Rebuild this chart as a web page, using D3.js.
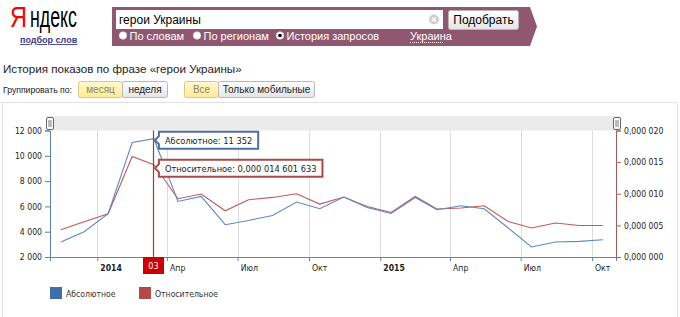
<!DOCTYPE html>
<html>
<head>
<meta charset="utf-8">
<script src="https://cdn.jsdelivr.net/npm/d3@7"></script>
<style>
body{margin:0;background:#fff;}
svg{display:block;}
</style>
</head>
<body>
<svg id="chart" width="680" height="317"></svg>
<script>
// monthly points, Nov 2013 .. Oct 2015
const months = ["2013-11","2013-12","2014-01","2014-02","2014-03","2014-04","2014-05","2014-06",
	"2014-07","2014-08","2014-09","2014-10","2014-11","2014-12","2015-01","2015-02","2015-03",
	"2015-04","2015-05","2015-06","2015-07","2015-08","2015-09","2015-10"]
const absolute = [3185,4000,5420,11050,11352,6392,6787,4551,4890,5286,6344,5815,6740,5918,
	5444,6708,5736,6052,5815,4290,2790,3185,3232,3366]
const relative = [4.31e-6,5.57e-6,6.84e-6,15.9e-6,14.601633e-6,9.21e-6,9.95e-6,7.31e-6,9.05e-6,
	9.42e-6,10.0e-6,8.37e-6,9.48e-6,7.99e-6,7.05e-6,9.57e-6,7.58e-6,7.74e-6,8.1e-6,5.62e-6,
	4.58e-6,5.37e-6,4.99e-6,4.99e-6]
const leftTicks = [2000,4000,6000,8000,10000,12000]
const rightTicks = [0,0.000005,0.00001,0.000015,0.00002]
const monthNames = ["Янв","Фев","Мар","Апр","Май","Июн","Июл","Авг","Сен","Окт","Ноя","Дек"]
const legendLabels = ["Абсолютное","Относительное"]
const hoverIndex = 4

const blue = "#5f88c0", red = "#bf5b58"
const axisFont = "8.6px 'DejaVu Sans Condensed','DejaVu Sans',Verdana,sans-serif"

const svg = d3.select("#chart")
const defs = svg.append("defs")
function grad(id, c1, c2){
	const g = defs.append("linearGradient").attr("id",id).attr("x1",0).attr("y1",0).attr("x2",0).attr("y2",1)
	g.append("stop").attr("offset","0%").attr("stop-color",c1)
	g.append("stop").attr("offset","100%").attr("stop-color",c2)
}
grad("btn","#ffffff","#e4e4e4")
grad("btnOn","#fff8d2","#ffeb94")

// ---------- header ----------
const logoFont = "30px 'Liberation Sans Narrow','Liberation Sans',Arial,sans-serif"
svg.append("text")
	.attr("x",10).attr("y",27)
	.attr("textLength",17).attr("lengthAdjust","spacingAndGlyphs")
	.style("font",logoFont).attr("fill","#f00")
	.text("Я")
svg.append("text")
	.attr("x",30).attr("y",27)
	.attr("textLength",47).attr("lengthAdjust","spacingAndGlyphs")
	.style("font",logoFont).attr("fill","#000")
	.text("ндекс")
svg.append("text")
	.attr("x",20).attr("y",43)
	.attr("fill","#3b3b8f")
	.attr("text-decoration","underline")
	.style("font","bold 9px Arial,'Liberation Sans',sans-serif")
	.text("подбор слов")

svg.append("path")
	.attr("d","M112,7 H530 L537,26.5 L530,46 H112 Z")
	.attr("fill","#8f5870")
svg.append("rect").attr("x",116).attr("y",10).attr("width",327).attr("height",19).attr("fill","#fff")
svg.append("text").attr("x",119).attr("y",24)
	.style("font","12px Arial,'Liberation Sans',sans-serif").attr("fill","#000")
	.text("герои Украины")
svg.append("circle").attr("cx",434).attr("cy",19.5).attr("r",5).attr("fill","#d0d0d0")
svg.append("path").attr("d","M432,17.5 L436,21.5 M436,17.5 L432,21.5")
	.attr("stroke","#fff").attr("stroke-width",1.3)

svg.append("rect").attr("x",448.5).attr("y",10.5).attr("width",70).attr("height",19).attr("rx",2)
	.attr("fill","url(#btn)").attr("stroke","#b5b5b5")
svg.append("text").attr("x",483.5).attr("y",24).attr("text-anchor","middle")
	.style("font","12px Arial,'Liberation Sans',sans-serif").attr("fill","#000")
	.text("Подобрать")

const radios = [{x:123,label:"По словам",on:false},{x:197,label:"По регионам",on:false},{x:280,label:"История запросов",on:true}]
radios.forEach(r=>{
	svg.append("circle").attr("cx",r.x).attr("cy",35.5).attr("r",3.8)
		.attr("fill","#fff").attr("stroke","#ccc").attr("stroke-width",0.8)
	if(r.on) svg.append("circle").attr("cx",r.x).attr("cy",35.5).attr("r",1.8).attr("fill","#000")
	svg.append("text").attr("x",r.x+6.5).attr("y",39.5)
		.style("font","11px Arial,'Liberation Sans',sans-serif").attr("fill","#fff")
		.text(r.label)
})
svg.append("text").attr("x",410).attr("y",39.5)
	.style("font","11px Arial,'Liberation Sans',sans-serif").attr("fill","#fff")
	.text("Украина")
svg.append("line").attr("x1",410).attr("x2",444).attr("y1",42.5).attr("y2",42.5)
	.attr("stroke","#fff").attr("stroke-dasharray","1,1")

// ---------- title & buttons ----------
svg.append("text").attr("x",3).attr("y",73)
	.style("font","11.6px Arial,'Liberation Sans',sans-serif").attr("fill","#222")
	.text("История показов по фразе «герои Украины»")
svg.append("text").attr("x",3).attr("y",93)
	.attr("textLength",69).attr("lengthAdjust","spacingAndGlyphs")
	.style("font","9.6px Arial,'Liberation Sans',sans-serif").attr("fill","#222")
	.text("Группировать по:")

const buttons = [
	{x:78.5,w:44,label:"месяц",on:true},
	{x:122.5,w:45,label:"неделя",on:false},
	{x:184.5,w:34,label:"Все",on:true},
	{x:218.5,w:96,label:"Только мобильные",on:false}
]
buttons.forEach(b=>{
	svg.append("rect").attr("x",b.x).attr("y",81.5).attr("width",b.w).attr("height",16).attr("rx",2)
		.attr("fill",b.on?"url(#btnOn)":"url(#btn)")
		.attr("stroke",b.on?"#d6c98a":"#b8b8b8")
	svg.append("text").attr("x",b.x+b.w/2).attr("y",93.3).attr("text-anchor","middle")
		.style("font","10px Arial,'Liberation Sans',sans-serif")
		.attr("fill",b.on?"#8c8468":"#222")
		.text(b.label)
})

// frame round the chart
svg.append("path").attr("d","M0,102.5 H677.5 V317 M2.5,102.5 V317")
	.attr("fill","none").attr("stroke","#e2e2e2")

// ---------- chart ----------
const parse = d3.timeParse("%Y-%m-%d")
const data = months.map((m,i)=>({date:parse(m+"-15"),abs:absolute[i],rel:relative[i]}))

const plotLeft = 50, plotRight = 616, plotTop = 130.5, plotBottom = 257
const x = d3.scaleTime().domain([parse("2013-11-01"),parse("2015-11-01")]).range([plotLeft,plotRight])
const yL = d3.scaleLinear().domain([2000,12000]).range([plotBottom,plotTop])
const yR = d3.scaleLinear().domain([0,0.00002]).range([plotBottom,plotTop])

const ru = d3.formatLocale({decimal:",",thousands:" ",grouping:[3],currency:["",""]})
const fmtAbs = ru.format(",d")
function fmtRel(v,digits){
	const s = v.toFixed(digits).split(".")
	return s[0]+","+s[1].match(/.{1,3}/g).join(" ")
}

// slider band + handles
svg.append("rect").attr("x",47).attr("y",116).attr("width",573).attr("height",14.5).attr("fill","#ebebeb")
;[50,617].forEach(hx=>{
	svg.append("rect").attr("x",hx-3.5).attr("y",117.5).attr("width",7).attr("height",12).attr("rx",1.5)
		.attr("fill","#fff").attr("stroke","#666")
	svg.append("path").attr("d",`M${hx-1},120 V127 M${hx+1},120 V127`).attr("stroke","#555").attr("stroke-width",0.8)
})

const quarterTicks = d3.timeMonth.every(3).range(parse("2014-01-01"),parse("2015-11-01"))

svg.append("g").selectAll("line").data(quarterTicks).join("line")
	.attr("x1",d=>Math.round(x(d))+0.5).attr("x2",d=>Math.round(x(d))+0.5)
	.attr("y1",plotTop).attr("y2",plotBottom)
	.attr("stroke","#dcdcdc")

// bottom axis
const xAxis = d3.axisBottom(x).tickValues(quarterTicks).tickSize(4).tickFormat(()=> "")
const gx = svg.append("g").attr("transform",`translate(0,${plotBottom})`).call(xAxis)
gx.select(".domain").attr("stroke","#6b84a8")
gx.selectAll(".tick line").attr("stroke","#6b84a8")
svg.append("g").selectAll("text").data(quarterTicks).join("text")
	.attr("x",d=>x(d)+3).attr("y",271)
	.style("font",axisFont)
	.style("font-weight",d=>d.getMonth()===0?"bold":"normal")
	.attr("fill","#222")
	.text(d=>d.getMonth()===0?d.getFullYear():monthNames[d.getMonth()])

// left axis
const gl = svg.append("g").attr("transform",`translate(${plotLeft},0)`)
	.call(d3.axisLeft(yL).tickValues(leftTicks).tickSize(5).tickPadding(3).tickFormat(fmtAbs))
gl.select(".domain").attr("stroke","#5b7fb5")
gl.selectAll(".tick line").attr("stroke","#5b7fb5")
gl.selectAll(".tick text").style("font",axisFont).attr("fill","#222")

// right axis
const gr = svg.append("g").attr("transform",`translate(${plotRight},0)`)
	.call(d3.axisRight(yR).tickValues(rightTicks).tickSize(5).tickPadding(3).tickFormat(d=>fmtRel(d,6)))
gr.select(".domain").attr("stroke","#a85a5a")
gr.selectAll(".tick line").attr("stroke","#a85a5a")
gr.selectAll(".tick text").style("font",axisFont).attr("fill","#222")

// lines
svg.append("path").datum(data)
	.attr("fill","none").attr("stroke",red).attr("stroke-width",1.1)
	.attr("d",d3.line().x(d=>x(d.date)).y(d=>yR(d.rel)))
svg.append("path").datum(data)
	.attr("fill","none").attr("stroke",blue).attr("stroke-width",1.1)
	.attr("d",d3.line().x(d=>x(d.date)).y(d=>yL(d.abs)))

// hover marker
const h = data[hoverIndex]
const hx = Math.round(x(h.date))-0.5
svg.append("line").attr("x1",hx).attr("x2",hx).attr("y1",plotTop).attr("y2",plotBottom)
	.attr("stroke","#a33a3a").attr("stroke-width",1.2)
svg.append("rect").attr("x",hx-10.5).attr("y",plotBottom).attr("width",21).attr("height",17).attr("fill","#cc0000")
svg.append("text").attr("x",hx).attr("y",plotBottom+11.5).attr("text-anchor","middle")
	.style("font","9px 'DejaVu Sans Condensed','DejaVu Sans',sans-serif").attr("fill","#fff")
	.text(d3.timeFormat("%m")(h.date))

function tip(px,py,label,stroke){
	const g = svg.append("g")
	const t = g.append("text").attr("x",px+11).attr("y",py+4)
		.style("font","9.2px 'DejaVu Sans Condensed','DejaVu Sans',sans-serif").attr("fill","#222")
		.text(label)
	const w = t.node().getComputedTextLength()+12
	const bx = px+5, by = py-8.5, bh = 17
	g.insert("path","text")
		.attr("d",`M${bx},${by} H${bx+w} V${by+bh} H${bx} V${py+4} L${px+1},${py} L${bx},${py-4} Z`)
		.attr("fill","#fff").attr("stroke",stroke).attr("stroke-width",2)
}
tip(x(h.date),yL(h.abs)+1.5,"Абсолютное: "+fmtAbs(h.abs),"#4d6fa0")
tip(x(h.date),yR(h.rel)+3.5,"Относительное: "+fmtRel(h.rel,12),"#a84a4a")

// legend
const lg = svg.append("g").selectAll("g").data(legendLabels).join("g")
	.attr("transform",(d,i)=>`translate(${i?139:50},287)`)
lg.append("rect").attr("width",12).attr("height",12).attr("fill",(d,i)=>i?"#b34a48":"#3f6ea8")
lg.append("text").attr("x",16).attr("y",9.5)
	.style("font","8.6px 'DejaVu Sans Condensed','DejaVu Sans',sans-serif").attr("fill","#333")
	.text(d=>d)
</script>
</body>
</html>
